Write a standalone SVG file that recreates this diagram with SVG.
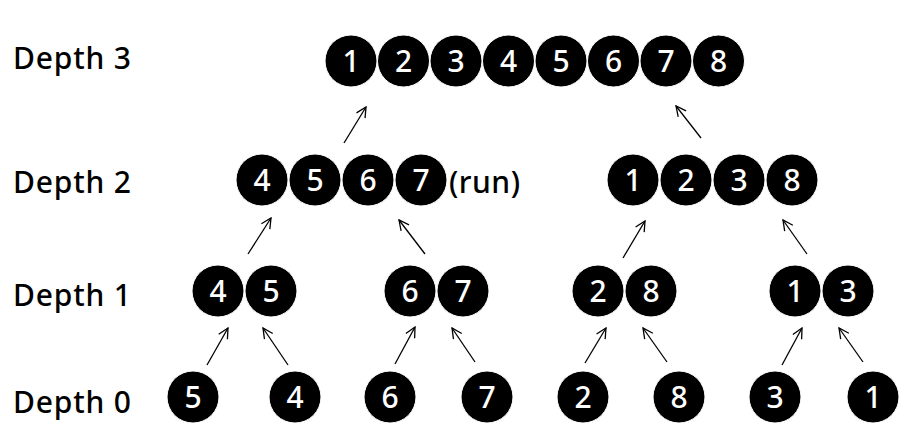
<svg xmlns="http://www.w3.org/2000/svg" width="910" height="440" viewBox="0 0 910 440">
<style>
.lbl{font-family:"Noto Sans","Open Sans","Liberation Sans",sans-serif;font-size:30px;font-weight:500;fill:#000}
.dl{letter-spacing:0.8px}
.n circle{fill:#000;stroke:#fff;stroke-width:1}
.n text{font-family:"Noto Sans","Open Sans","Liberation Sans",sans-serif;font-size:30px;font-weight:500;fill:#fff;text-anchor:middle}
.c line{stroke:#000;stroke-width:1.3;marker-end:url(#ah)}
</style>
<defs>
<marker id="ah" viewBox="0 0 12 12" refX="11" refY="6" markerWidth="12" markerHeight="12" markerUnits="userSpaceOnUse" orient="auto">
<path d="M1,1 L11,6 L1,11" fill="none" stroke="#000" stroke-width="1.3"/>
</marker>
</defs>
<rect width="910" height="440" fill="#fff"/>
<g id="labels">
<text class="lbl dl" x="13" y="69">Depth 3</text>
<text class="lbl dl" x="13" y="193">Depth 2</text>
<text class="lbl dl" x="13" y="306">Depth 1</text>
<text class="lbl dl" x="13" y="413">Depth 0</text>
</g>
<g id="d3" class="n">
<circle cx="351" cy="61" r="26"/><text x="351" y="72">1</text>
<circle cx="403.5" cy="61" r="26"/><text x="403.5" y="72">2</text>
<circle cx="456" cy="61" r="26"/><text x="456" y="72">3</text>
<circle cx="508.5" cy="61" r="26"/><text x="508.5" y="72">4</text>
<circle cx="561" cy="61" r="26"/><text x="561" y="72">5</text>
<circle cx="613.5" cy="61" r="26"/><text x="613.5" y="72">6</text>
<circle cx="666" cy="61" r="26"/><text x="666" y="72">7</text>
<circle cx="718.5" cy="61" r="26"/><text x="718.5" y="72">8</text>
</g>
<g id="d2a" class="n">
<circle cx="262" cy="180" r="26"/><text x="262" y="191">4</text>
<circle cx="315" cy="180" r="26"/><text x="315" y="191">5</text>
<circle cx="368" cy="180" r="26"/><text x="368" y="191">6</text>
<circle cx="421" cy="180" r="26"/><text x="421" y="191">7</text>
</g>
<text class="lbl" x="449" y="193" letter-spacing="0.5">(run)</text>
<g id="d2b" class="n">
<circle cx="633" cy="180" r="26"/><text x="633" y="191">1</text>
<circle cx="686" cy="180" r="26"/><text x="686" y="191">2</text>
<circle cx="739" cy="180" r="26"/><text x="739" y="191">3</text>
<circle cx="792" cy="180" r="26"/><text x="792" y="191">8</text>
</g>
<g id="d1a" class="n">
<circle cx="218" cy="291" r="26"/><text x="218" y="302">4</text>
<circle cx="271" cy="291" r="26"/><text x="271" y="302">5</text>
</g>
<g id="d1b" class="n">
<circle cx="410" cy="291" r="26"/><text x="410" y="302">6</text>
<circle cx="463" cy="291" r="26"/><text x="463" y="302">7</text>
</g>
<g id="d1c" class="n">
<circle cx="598" cy="291" r="26"/><text x="598" y="302">2</text>
<circle cx="651" cy="291" r="26"/><text x="651" y="302">8</text>
</g>
<g id="d1d" class="n">
<circle cx="795" cy="291" r="26"/><text x="795" y="302">1</text>
<circle cx="848" cy="291" r="26"/><text x="848" y="302">3</text>
</g>
<g id="d0-5" class="n"><circle cx="193" cy="397" r="26"/><text x="193" y="408">5</text></g>
<g id="d0-4" class="n"><circle cx="295" cy="397" r="26"/><text x="295" y="408">4</text></g>
<g id="d0-6" class="n"><circle cx="390" cy="397" r="26"/><text x="390" y="408">6</text></g>
<g id="d0-7" class="n"><circle cx="487" cy="397" r="26"/><text x="487" y="408">7</text></g>
<g id="d0-2" class="n"><circle cx="583" cy="397" r="26"/><text x="583" y="408">2</text></g>
<g id="d0-8" class="n"><circle cx="679" cy="397" r="26"/><text x="679" y="408">8</text></g>
<g id="d0-3" class="n"><circle cx="775" cy="397" r="26"/><text x="775" y="408">3</text></g>
<g id="d0-1" class="n"><circle cx="873" cy="397" r="26"/><text x="873" y="408">1</text></g>
<g id="connectors" class="c">
<line x1="207" y1="365" x2="228" y2="328"/>
<line x1="288" y1="365" x2="263" y2="328"/>
<line x1="395" y1="364" x2="415" y2="327"/>
<line x1="475" y1="362" x2="452" y2="328"/>
<line x1="585" y1="363" x2="606" y2="328"/>
<line x1="667" y1="362" x2="643" y2="328"/>
<line x1="782" y1="365" x2="802" y2="328"/>
<line x1="863" y1="362" x2="839" y2="328"/>
<line x1="248" y1="254" x2="271" y2="218"/>
<line x1="425" y1="254" x2="399" y2="220"/>
<line x1="623" y1="258" x2="645" y2="221"/>
<line x1="807" y1="254" x2="783" y2="220"/>
<line x1="344" y1="143" x2="366" y2="107"/>
<line x1="701" y1="138" x2="676" y2="106"/>
</g>
</svg>
